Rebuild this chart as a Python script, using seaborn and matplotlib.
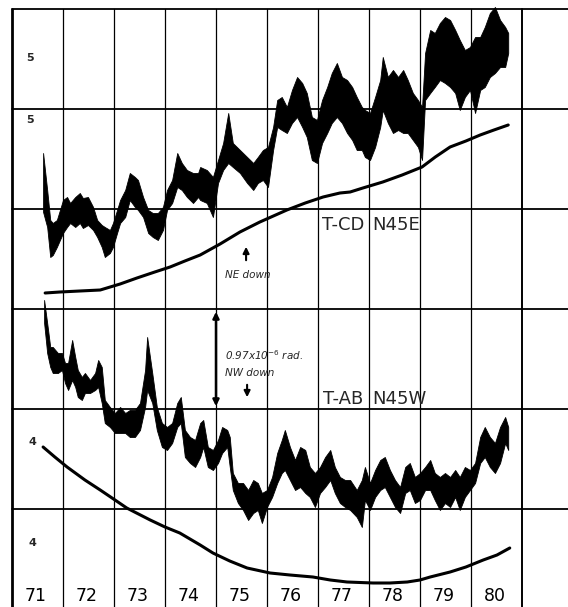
import matplotlib
matplotlib.use("Agg")
import matplotlib.pyplot as plt
import seaborn as sns
import pandas as pd

sns.set_theme(style="white")
plt.rcParams['font.family'] = ['DejaVu Sans']

# ---- data (years, tilt in grid divisions; 1 division = 0.97e-6 rad) ----
cd_year = [71.61, 71.69, 71.75, 71.80, 71.88, 71.94, 72.00, 72.08, 72.14, 72.24, 72.33, 72.39,
           72.49, 72.59, 72.67, 72.76, 72.82, 72.92, 72.98, 73.06, 73.12, 73.22, 73.31, 73.41,
           73.47, 73.57, 73.67, 73.76, 73.86, 73.96, 74.04, 74.14, 74.24, 74.33, 74.43, 74.55,
           74.65, 74.69, 74.82, 74.94, 75.04, 75.14, 75.24, 75.33, 75.47, 75.61, 75.73, 75.82,
           75.92, 76.02, 76.12, 76.20, 76.29, 76.39, 76.49, 76.59, 76.69, 76.78, 76.88, 76.98,
           77.08, 77.18, 77.27, 77.37, 77.47, 77.57, 77.67, 77.76, 77.86, 77.92, 78.02, 78.12,
           78.22, 78.27, 78.37, 78.47, 78.57, 78.67, 78.76, 78.86, 78.96, 79.04, 79.10, 79.20,
           79.29, 79.39, 79.49, 79.59, 79.69, 79.78, 79.88, 79.98, 80.08, 80.18, 80.27, 80.37,
           80.47, 80.57, 80.67, 80.73]
cd_high = [4.56, 4.19, 3.89, 3.86, 3.89, 3.99, 4.09, 4.12, 4.06, 4.12, 4.16, 4.11,
           4.12, 4.02, 3.89, 3.84, 3.82, 3.79, 3.86, 3.99, 4.09, 4.19, 4.36, 4.32,
           4.29, 4.12, 3.99, 3.96, 3.96, 4.02, 4.19, 4.29, 4.56, 4.46, 4.39, 4.36,
           4.36, 4.42, 4.39, 4.32, 4.49, 4.66, 4.96, 4.66, 4.59, 4.52, 4.46, 4.52,
           4.59, 4.62, 4.82, 5.09, 5.12, 5.02, 5.19, 5.32, 5.26, 5.16, 4.92, 4.89,
           5.09, 5.22, 5.36, 5.46, 5.32, 5.29, 5.22, 5.12, 5.02, 4.99, 4.96, 5.12,
           5.29, 5.52, 5.32, 5.39, 5.32, 5.39, 5.29, 5.16, 5.09, 5.02, 5.56, 5.79,
           5.76, 5.86, 5.92, 5.89, 5.79, 5.69, 5.59, 5.62, 5.72, 5.72, 5.82, 5.96,
           6.02, 5.89, 5.82, 5.76]
cd_low = [3.97, 3.82, 3.52, 3.54, 3.62, 3.69, 3.76, 3.82, 3.86, 3.82, 3.86, 3.81,
          3.84, 3.79, 3.72, 3.62, 3.52, 3.56, 3.62, 3.76, 3.86, 3.92, 4.09, 4.02,
          3.99, 3.92, 3.76, 3.72, 3.69, 3.79, 3.99, 4.06, 4.22, 4.19, 4.12, 4.06,
          4.12, 4.09, 4.06, 3.92, 4.26, 4.39, 4.46, 4.42, 4.36, 4.26, 4.19, 4.26,
          4.29, 4.22, 4.59, 4.82, 4.79, 4.76, 4.86, 4.92, 4.82, 4.72, 4.49, 4.46,
          4.66, 4.76, 4.86, 4.92, 4.86, 4.76, 4.69, 4.59, 4.59, 4.52, 4.49, 4.62,
          4.82, 4.99, 4.86, 4.76, 4.79, 4.76, 4.76, 4.69, 4.62, 4.49, 5.09, 5.16,
          5.22, 5.29, 5.26, 5.22, 5.16, 4.99, 5.12, 5.19, 4.96, 5.19, 5.22, 5.32,
          5.36, 5.42, 5.42, 5.56]

ab_year = [71.63, 71.69, 71.75, 71.80, 71.90, 71.98, 72.04, 72.10, 72.18, 72.24, 72.29, 72.37,
           72.43, 72.53, 72.63, 72.69, 72.76, 72.82, 72.92, 73.02, 73.12, 73.22, 73.31, 73.41,
           73.51, 73.61, 73.65, 73.75, 73.84, 73.94, 74.04, 74.14, 74.24, 74.31, 74.39, 74.49,
           74.59, 74.69, 74.75, 74.84, 74.94, 75.04, 75.12, 75.22, 75.27, 75.33, 75.43, 75.53,
           75.63, 75.73, 75.82, 75.90, 76.00, 76.10, 76.20, 76.29, 76.35, 76.45, 76.55, 76.65,
           76.75, 76.84, 76.94, 77.04, 77.14, 77.24, 77.33, 77.43, 77.53, 77.63, 77.76, 77.86,
           77.92, 78.02, 78.12, 78.22, 78.31, 78.41, 78.51, 78.61, 78.71, 78.80, 78.90, 79.00,
           79.10, 79.20, 79.29, 79.39, 79.49, 79.59, 79.69, 79.78, 79.88, 79.98, 80.08, 80.18,
           80.27, 80.37, 80.47, 80.57, 80.67, 80.73]
ab_high = [3.09, 2.86, 2.62, 2.62, 2.56, 2.56, 2.46, 2.46, 2.69, 2.52, 2.39, 2.32,
           2.36, 2.29, 2.36, 2.49, 2.42, 2.09, 2.02, 1.96, 2.02, 1.96, 1.99, 1.99,
           2.06, 2.39, 2.72, 2.36, 2.02, 1.86, 1.82, 1.86, 2.06, 2.12, 1.79, 1.72,
           1.69, 1.86, 1.89, 1.62, 1.59, 1.69, 1.82, 1.79, 1.72, 1.36, 1.26, 1.26,
           1.19, 1.29, 1.26, 1.16, 1.19, 1.32, 1.56, 1.69, 1.79, 1.62, 1.49, 1.62,
           1.59, 1.42, 1.36, 1.42, 1.52, 1.59, 1.42, 1.32, 1.29, 1.29, 1.19, 1.29,
           1.42, 1.26, 1.39, 1.49, 1.52, 1.39, 1.29, 1.22, 1.42, 1.46, 1.32, 1.36,
           1.42, 1.49, 1.36, 1.32, 1.36, 1.32, 1.39, 1.32, 1.42, 1.39, 1.46, 1.72,
           1.82, 1.72, 1.66, 1.82, 1.92, 1.82]
ab_low = [2.86, 2.56, 2.42, 2.36, 2.36, 2.39, 2.26, 2.19, 2.29, 2.22, 2.12, 2.09,
          2.16, 2.16, 2.19, 2.22, 2.06, 1.86, 1.82, 1.76, 1.76, 1.76, 1.72, 1.72,
          1.79, 2.02, 2.19, 2.06, 1.79, 1.62, 1.59, 1.66, 1.82, 1.86, 1.52, 1.46,
          1.42, 1.52, 1.62, 1.42, 1.39, 1.46, 1.56, 1.62, 1.42, 1.19, 1.06, 0.99,
          0.89, 0.96, 0.99, 0.86, 1.02, 1.12, 1.26, 1.36, 1.39, 1.29, 1.19, 1.22,
          1.16, 1.12, 1.02, 1.16, 1.22, 1.29, 1.16, 1.06, 1.02, 0.99, 0.92, 0.82,
          1.09, 0.99, 1.12, 1.19, 1.22, 1.12, 1.02, 0.96, 1.16, 1.19, 1.06, 1.09,
          1.19, 1.19, 1.09, 0.99, 1.06, 1.02, 1.12, 0.99, 1.12, 1.19, 1.26, 1.46,
          1.52, 1.42, 1.36, 1.46, 1.66, 1.59]

cd_smooth_year = [71.65, 71.94, 72.33, 72.73, 73.12, 73.45, 73.80, 74.10, 74.39, 74.69, 75.08,
                  75.47, 75.86, 76.39, 76.75, 77.10, 77.43, 77.63, 77.88, 78.27, 78.65, 79.04,
                  79.30, 79.59, 79.90, 80.18, 80.45, 80.73]
cd_smooth_val = [3.16, 3.17, 3.18, 3.19, 3.25, 3.31, 3.37, 3.42, 3.48, 3.54, 3.65,
                 3.77, 3.87, 3.99, 4.06, 4.12, 4.16, 4.17, 4.21, 4.27, 4.34, 4.42,
                 4.52, 4.62, 4.68, 4.74, 4.79, 4.84]
ab_smooth_year = [71.61, 71.84, 72.08, 72.43, 72.73, 73.02, 73.25, 73.71, 74.00, 74.29, 74.69,
                  74.94, 75.27, 75.61, 76.06, 76.45, 76.90, 77.24, 77.57, 78.08, 78.41, 78.75,
                  79.00, 79.20, 79.59, 79.90, 80.24, 80.51, 80.76]
ab_smooth_val = [1.62, 1.52, 1.42, 1.29, 1.19, 1.09, 1.01, 0.89, 0.82, 0.76, 0.64,
                 0.56, 0.48, 0.41, 0.36, 0.34, 0.32, 0.29, 0.27, 0.26, 0.26, 0.27,
                 0.29, 0.32, 0.37, 0.42, 0.49, 0.54, 0.61]

year_labels = ["71", "72", "73", "74", "75", "76", "77", "78", "79", "80"]
year_edges = [71, 72, 73, 74, 75, 76, 77, 78, 79, 80, 81]
row_lines = [1, 2, 3, 4, 5, 6]

# ---- figure ----
fig = plt.figure(figsize=(5.68, 6.07), dpi=100)
ax = fig.add_axes([0, 0, 1, 1])

# grid
for y in row_lines:
    ax.plot([year_edges[0], 81.902], [y, y], color="black", lw=1.3, zorder=1)
for i, x in enumerate(year_edges):
    lw = 2.0 if i == 0 else (1.4 if i == len(year_edges) - 1 else 0.9)
    ax.plot([x, x], [0.02, 6.0], color="black", lw=lw, zorder=1)

# noisy records as envelopes
ax.fill_between(cd_year, cd_low, cd_high, color="black", lw=0.6, edgecolor="black", zorder=3)
ax.fill_between(ab_year, ab_low, ab_high, color="black", lw=0.6, edgecolor="black", zorder=3)

# smooth curves via seaborn
df_cd = pd.DataFrame({"year": cd_smooth_year, "tilt": cd_smooth_val})
df_ab = pd.DataFrame({"year": ab_smooth_year, "tilt": ab_smooth_val})
sns.lineplot(data=df_cd, x="year", y="tilt", ax=ax, color="black", lw=2.2,
             estimator=None, sort=False, zorder=4)
sns.lineplot(data=df_ab, x="year", y="tilt", ax=ax, color="black", lw=2.2,
             estimator=None, sort=False, zorder=4)
ax.set_xlim(70.765, 81.902)
ax.set_ylim(0.02, 6.09)
ax.axis("off")

# year labels
for i, lab in enumerate(year_labels):
    ax.text(year_edges[i] + 0.47, 0.13, lab, ha="center", va="center", fontsize=12.5, color="black")

# small scale numbers
ax.text(71.35, 5.51, "5", ha="center", va="center", fontsize=8, fontweight="bold")
ax.text(71.35, 4.89, "5", ha="center", va="center", fontsize=8, fontweight="bold")
ax.text(71.41, 1.67, "4", ha="center", va="center", fontsize=8, fontweight="bold")
ax.text(71.41, 0.66, "4", ha="center", va="center", fontsize=8, fontweight="bold")

# series labels
ax.text(77.50, 3.84, "T-CD", ha="center", va="center", fontsize=13)
ax.text(78.06, 3.84, "N45E", ha="left", va="center", fontsize=13)
ax.text(77.50, 2.10, "T-AB", ha="center", va="center", fontsize=13, zorder=5)
ax.text(78.06, 2.10, "N45W", ha="left", va="center", fontsize=13, zorder=5)

# annotations
ax.annotate("", xy=(75.59, 3.65), xytext=(75.59, 3.46),
            arrowprops=dict(arrowstyle="-|>", color="black", lw=1.5, mutation_scale=9))
ax.text(75.18, 3.34, "NE down", ha="left", va="center", fontsize=7.5, style="italic")

ax.annotate("", xy=(75.0, 3.0), xytext=(75.0, 2.0),
            arrowprops=dict(arrowstyle="<|-|>", color="black", lw=1.8, mutation_scale=9))
ax.text(75.18, 2.54, r"0.97x10$^{-6}$ rad.", ha="left", va="center", fontsize=7.5, style="italic")
ax.text(75.18, 2.36, "NW down", ha="left", va="center", fontsize=7.5, style="italic")
ax.annotate("", xy=(75.61, 2.09), xytext=(75.61, 2.27),
            arrowprops=dict(arrowstyle="-|>", color="black", lw=1.5, mutation_scale=9))

fig.savefig("out.png", dpi=100, facecolor="white")
